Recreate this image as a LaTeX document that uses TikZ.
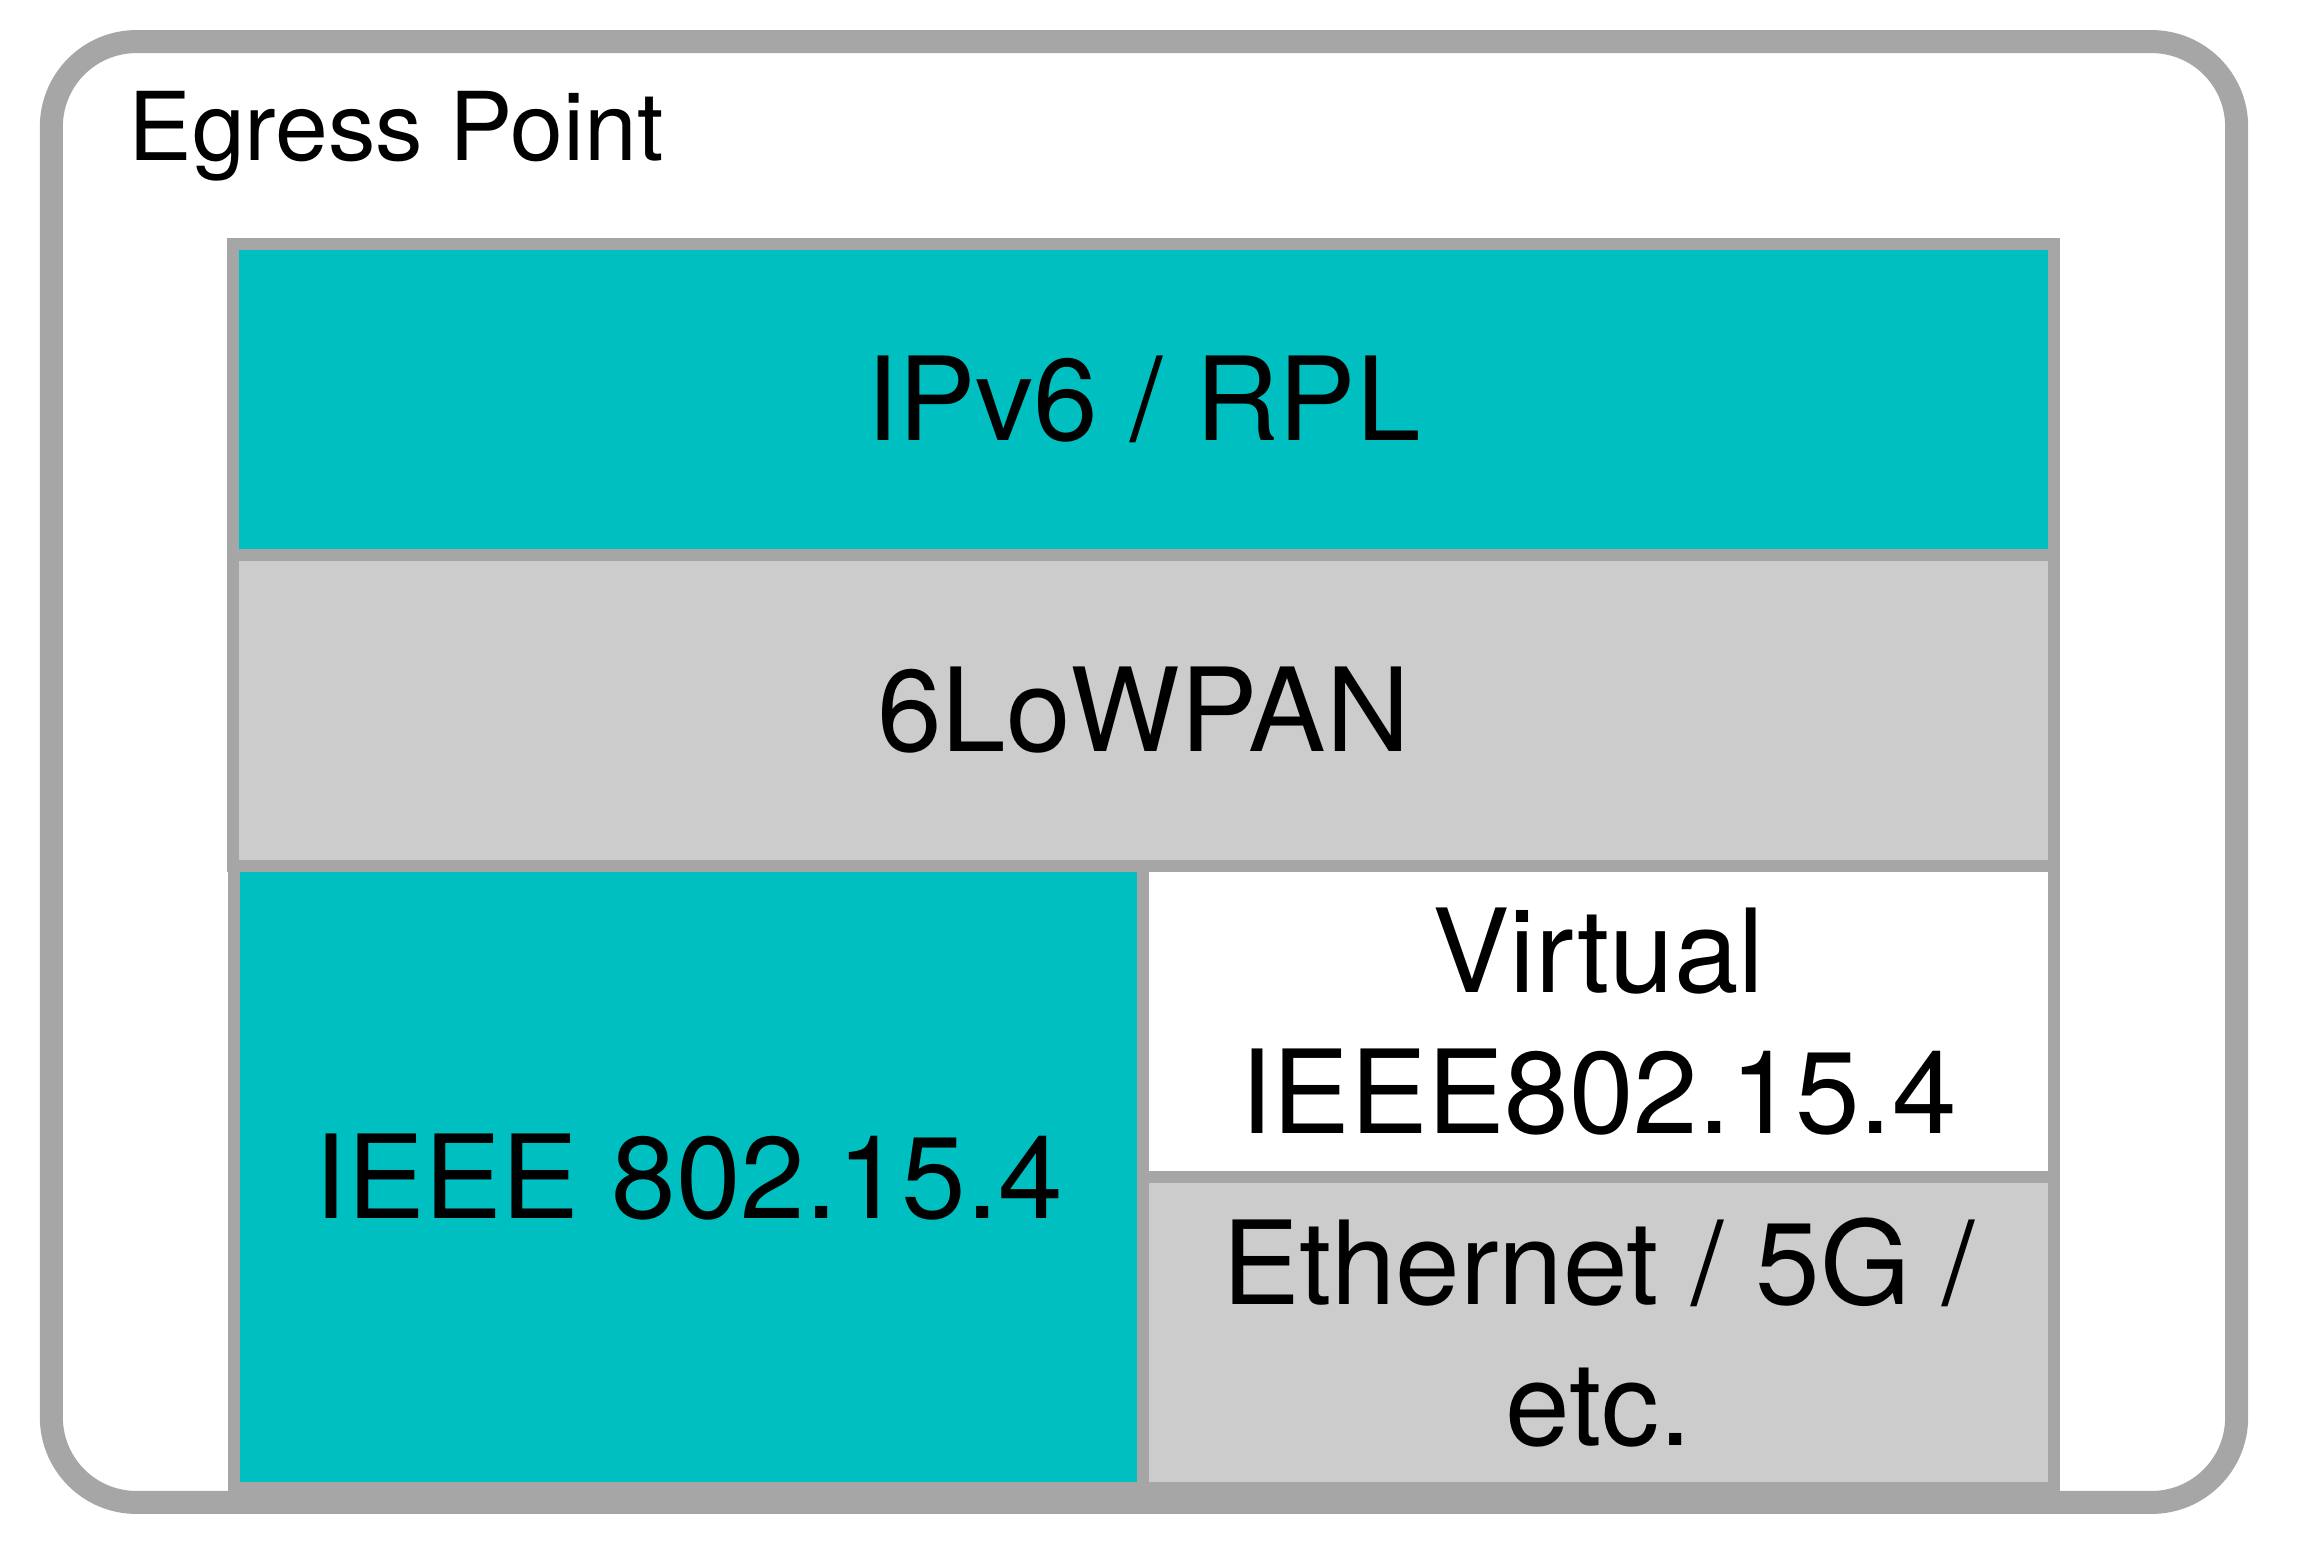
\documentclass[tikz,border=0pt]{standalone}
\usepackage{fontspec}
\setmainfont{TeX Gyre Heros}
\usetikzlibrary{positioning}
\definecolor{frame gray}{HTML}{A6A6A6}
\definecolor{layer teal}{HTML}{00BFC0}
\definecolor{layer gray}{HTML}{CCCCCC}

\begin{document}
\begin{tikzpicture}[x=0.01cm, y=-0.01cm]
				% Setup the styles for the frame and the layers
				\tikzset{frame style/.style={draw=frame gray,
											 line width=0.23cm,
											 fill=white,
											 rounded corners=0.85cm,
											 minimum width=21.84cm,
											 minimum height=14.6cm},
						 layer style/.style={draw=frame gray,
											 line width=0.12cm,
											 inner sep=0pt,
											 align=center,
											 font=\fontsize{33}{40}\selectfont},
						 wide layer/.style={layer style,
											minimum width=18.19cm,
											minimum height=3.11cm},
						 half layer/.style={layer style,
											minimum width=9.1cm,
											minimum height=3.11cm}}
				\useasboundingbox (0, 0) rectangle (2301, 1563);
				% Draw the egress point frame
				\node[frame style] at (1144, 772) (egress) {};
				\node[anchor=base west, inner sep=0pt,
					  font=\fontsize{27}{32}\selectfont] at (128, 160) (title) {Egress Point};
				% Draw the layers
				\node[wide layer, fill=layer teal] at (1143.5, 399.5)  (ipv6)   {IPv6 / RPL};
				\node[wide layer, fill=layer gray] at (1143.5, 710.5)  (lowpan) {6LoWPAN};
				\node[half layer, fill=layer teal, minimum height=6.22cm] at (689, 1177) (ieee) {IEEE 802.15.4};
				\node[half layer, fill=white]      at (1598.5, 1021.5) (virt)   {Virtual\\IEEE802.15.4};
				\node[half layer, fill=layer gray] at (1598.5, 1332.5) (eth)    {Ethernet / 5G /\\etc.};
\end{tikzpicture}
\end{document}
